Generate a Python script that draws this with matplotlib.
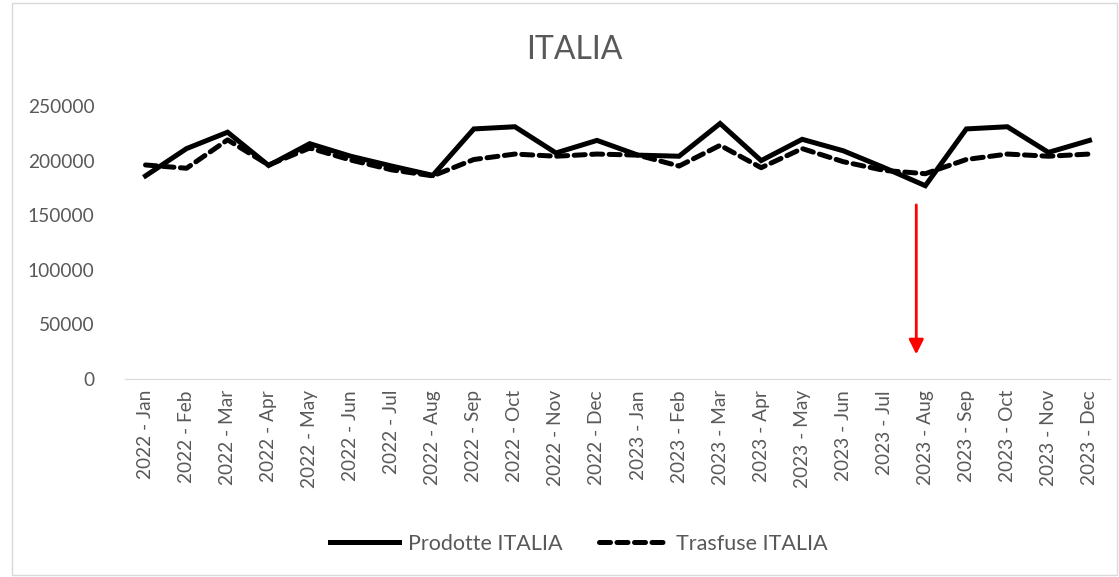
import matplotlib.pyplot as plt
from matplotlib.patches import Rectangle

mesi = ["Jan", "Feb", "Mar", "Apr", "May", "Jun", "Jul", "Aug", "Sep", "Oct", "Nov", "Dec"]
categorie = [f"{anno} - {m}" for anno in (2022, 2023) for m in mesi]

# unità prodotte
prodotte = [186000, 211000, 226000, 195500, 215500, 204000, 195000, 186500, 229000, 231000, 207000, 218500,
            205000, 204000, 234000, 200000, 219500, 209000, 193500, 177000, 229000, 231000, 207500, 218500]
# unità trasfuse
trasfuse = [196000, 193000, 219000, 196000, 211500, 200500, 191500, 186000, 201000, 206000, 204000, 206000,
            205000, 195000, 214000, 193500, 211000, 199000, 191000, 188000, 201000, 206000, 204000, 206000]

plt.rcParams['font.family'] = ['Lato', 'DejaVu Sans']

fig = plt.figure(figsize=(11.19, 5.77), dpi=100)
ax = fig.add_axes([125 / 1119, 1 - 379 / 577, (1110 - 125) / 1119, (379 - 106) / 577])

x = range(len(categorie))
ax.plot(x, prodotte, color='black', lw=3.6, label="Prodotte ITALIA", solid_joinstyle='miter')
ax.plot(x, trasfuse, color='black', lw=3.6, ls=(0, (2.2, 1.3)), dash_capstyle='round',
        label="Trasfuse ITALIA")

ax.set_ylim(0, 250000)
ax.set_xlim(-0.5, len(categorie) - 0.5)
ax.set_yticks(range(0, 250001, 50000))
ax.set_xticks(list(x))
ax.set_xticklabels(categorie, rotation=90)
ax.tick_params(axis='both', length=0, colors='#595959', labelsize=13.8)
ax.tick_params(axis='y', pad=22)
ax.tick_params(axis='x', pad=8)
for s in ['top', 'right', 'left']:
    ax.spines[s].set_visible(False)
ax.spines['bottom'].set_color('#d9d9d9')

# freccia rossa su agosto 2023
ax.annotate("", xy=(18.78, 20000), xytext=(18.78, 162000),
            arrowprops=dict(arrowstyle='-|>', color='red', lw=2, mutation_scale=22))

fig.suptitle("ITALIA", x=574 / 1119, y=1 - 35 / 577, fontsize=23, color='#595959')

fig.legend(loc='center', bbox_to_anchor=(579 / 1119, 1 - 544 / 577), ncol=2, frameon=False,
           fontsize=15.5, labelcolor='#595959', handlelength=3.2, columnspacing=1.7, handletextpad=0.4)

fig.patches.append(Rectangle((12 / 1119, 0.003), 1 - 14 / 1119, 0.992, transform=fig.transFigure,
                             fill=False, edgecolor='#d9d9d9', lw=1))

fig.savefig("out.png", dpi=100)
